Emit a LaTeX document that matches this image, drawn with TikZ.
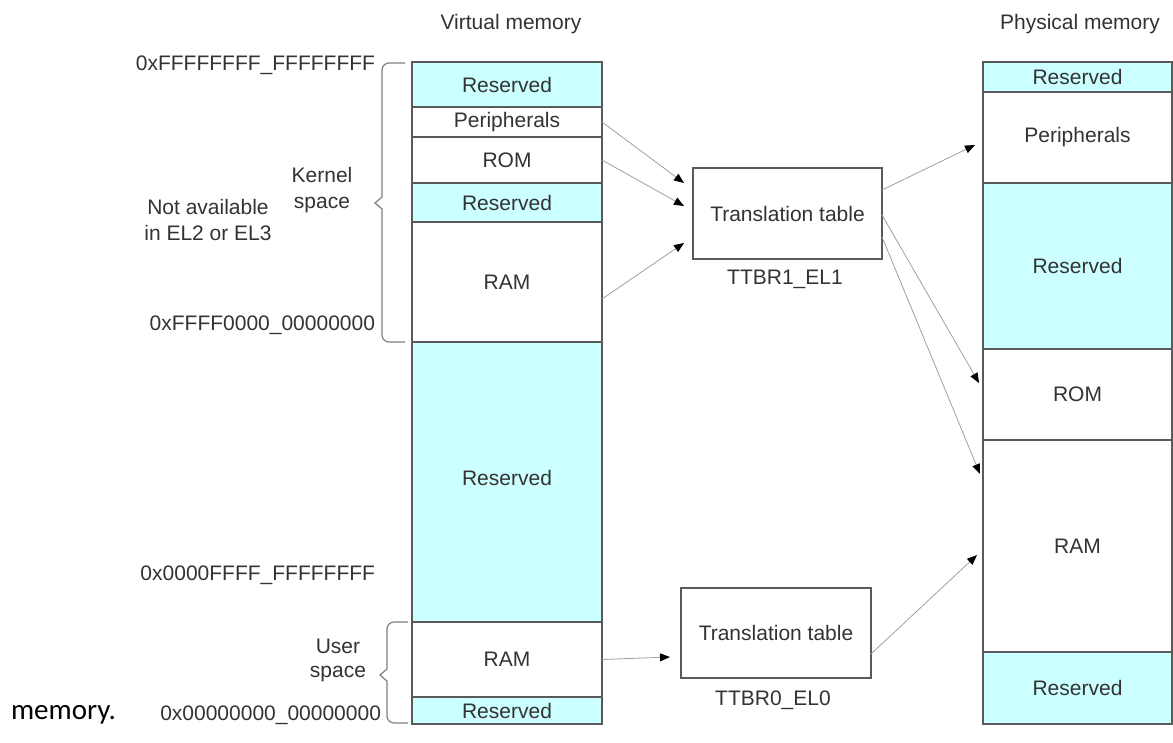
\documentclass[tikz,border=0pt]{standalone}
\usepackage{fontspec}
\setmainfont{Liberation Sans}
\newfontfamily\bodyfont{Carlito}
\usetikzlibrary{arrows.meta,calc}
\definecolor{resv}{HTML}{CCFFFF}
\definecolor{edgec}{HTML}{5A5A5A}
\definecolor{ink}{HTML}{333333}
\definecolor{connc}{HTML}{A0A0A0}
\definecolor{bracec}{HTML}{808080}
\begin{document}
\begin{tikzpicture}[x=1pt,y=-1pt,
  every node/.style={font=\fontsize{21}{26}\selectfont, text=ink, inner sep=0pt, outer sep=0pt},
  seg/.style={draw=edgec, line width=1.2pt, minimum width=190pt, fill=white, align=center},
  rsv/.style={seg, fill=resv},
  tbox/.style={draw=edgec, line width=1.2pt, minimum width=190pt, minimum height=91pt, fill=white},
  conn/.style={draw=connc, line width=0.8pt, -{Triangle[length=10pt,width=8pt,color=black]}},
  bracep/.style={draw=bracec, line width=1.2pt}
]
\fill[white] (0,0) rectangle (1173,742);
\useasboundingbox (0,0) rectangle (1173,742);

% titles
\node (vlab) at (511,24) {Virtual memory};
\node (plab) at (1080,24) {Physical memory};

% virtual memory column
\node[rsv, minimum height=45pt] (vres1) at (507,84.5) {Reserved};
\node[seg, minimum height=30pt] (vper) at (507,122) {Peripherals};
\node[seg, minimum height=46pt] (vrom) at (507,160) {ROM};
\node[rsv, minimum height=39pt] (vres2) at (507,202.5) {Reserved};
\node[seg, minimum height=120pt] (vram1) at (507,282) {RAM};
\node[rsv, minimum height=280pt] (vres3) at (507,482) {\raisebox{9pt}{Reserved}};
\node[seg, minimum height=75pt] (vram0) at (507,659.5) {RAM};
\node[rsv, minimum height=27pt] (vres4) at (507,710.5) {Reserved};

% physical memory column
\node[rsv, minimum width=189pt, minimum height=30pt] (pres1) at (1077.5,77) {Reserved};
\node[seg, minimum width=189pt, minimum height=91pt] (pper) at (1077.5,137.5) {Peripherals};
\node[rsv, minimum width=189pt, minimum height=166pt] (pres2) at (1077.5,266) {Reserved};
\node[seg, minimum width=189pt, minimum height=91pt] (prom) at (1077.5,394.5) {ROM};
\node[seg, minimum width=189pt, minimum height=212pt] (pram) at (1077.5,546) {RAM};
\node[rsv, minimum width=189pt, minimum height=72pt] (pres3) at (1077.5,688) {Reserved};

% translation tables
\node[tbox, minimum width=189pt] (tt1) at (787.5,213.5) {Translation table};
\node[tbox, minimum height=90pt] (tt0) at (776,633) {Translation table};
\node (ttbr1) at (785,279) {TTBR1\_EL1};
\node (ttbr0) at (773,700) {TTBR0\_EL0};

% address labels
\node[anchor=east] (a1) at (375,65) {0xFFFFFFFF\_FFFFFFFF};
\node[anchor=east] (a2) at (375,325) {0xFFFF0000\_00000000};
\node[anchor=east] (a3) at (375,575) {0x0000FFFF\_FFFFFFFF};
\node[anchor=east] (a4) at (381,715) {0x00000000\_00000000};

% side labels
\node[align=center] (kern) at (322,190) {Kernel\\space};
\node[align=center] (nae) at (208,220) {Not available\\in EL2 or EL3};
\node[align=center, font=\fontsize{21}{24}\selectfont] (usr) at (338,660) {User\\space};
\node[anchor=base west, font=\bodyfont\fontsize{29}{34}\selectfont, text=black] (mem) at (11,719) {memory.};

% braces
\draw[bracep] (405,63) {[rounded corners=7pt] -- (382,63) -- (382,120)} -- (382,197) -- (375,203) -- (382,209) {[rounded corners=7pt] -- (382,342) -- (405,342)};
\draw[bracep] (408,622) {[rounded corners=7pt] -- (387,622) -- (387,640)} -- (387,669) -- (380,675) -- (387,681) {[rounded corners=7pt] -- (387,723) -- (408,723)};

% connectors
\draw[conn] (vper.east) -- ($(tt1.north west)+(-9,15)$);
\draw[conn] (vrom.east) -- ($(tt1.north west)+(-9,38)$);
\draw[conn] ($(vram1.north east)+(0,77)$) -- ($(tt1.north west)+(-9,75)$);
\draw[conn] ($(tt1.north east)+(0,22)$) -- ($(pper.north west)+(-8,53)$);
\draw[conn] ($(tt1.north east)+(0,47)$) -- ($(prom.north west)+(-4,34)$);
\draw[conn] ($(tt1.north east)+(0,69)$) -- ($(pram.north west)+(-3,34)$);
\draw[conn] ($(tt0.south east)+(0,-24)$) -- ($(pram.north west)+(-6,115)$);
\draw[conn] (vram0.east) -- ($(tt0.west)+(-11,24)$);
\end{tikzpicture}
\end{document}
